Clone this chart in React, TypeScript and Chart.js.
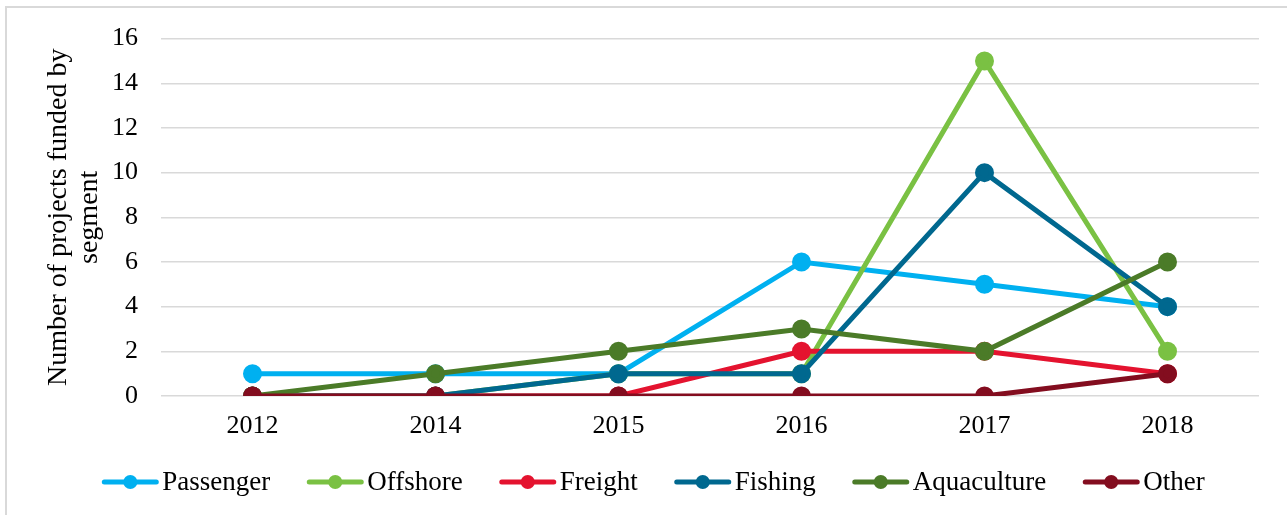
import React, { useEffect, useRef } from "react";
import { Chart, registerables } from "chart.js";

Chart.register(...registerables);

const categories = ["2012", "2014", "2015", "2016", "2017", "2018"];
const seriesNames = ["Passenger", "Offshore", "Freight", "Fishing", "Aquaculture", "Other"];
const passenger = [1, 1, 1, 6, 5, 4];
const offshore = [0, 0, 1, 1, 15, 2];
const freight = [0, 0, 0, 2, 2, 1];
const fishing = [0, 0, 1, 1, 10, 4];
const aquaculture = [0, 1, 2, 3, 2, 6];
const other = [0, 0, 0, 0, 0, 1];
const seriesValues = [passenger, offshore, freight, fishing, aquaculture, other];
const seriesColors = ["#00B0F0", "#7AC143", "#E4132F", "#00688F", "#4B7B28", "#830D1F"];
const yTitle = ["Number of projects funded by", "segment"];

const FONT = "'Liberation Serif', 'Times New Roman', serif";

const legendPlugin = {
  id: "customLegend",
  afterDraw(chart: any) {
    const ctx = chart.ctx;
    const fontSize = 27;
    ctx.save();
    ctx.font = `${fontSize}px ${FONT}`;
    const lineLen = 56;
    const textGap = 4;
    const itemGap = 37;
    const widths = chart.data.datasets.map((d: any) => lineLen + textGap + ctx.measureText(d.label).width);
    const total = widths.reduce((a: number, b: number) => a + b, 0) + itemGap * (widths.length - 1);
    let x = 653.5 - total / 2;
    const y = 482;
    chart.data.datasets.forEach((d: any, i: number) => {
      ctx.strokeStyle = d.borderColor;
      ctx.lineWidth = 5;
      ctx.lineCap = "round";
      ctx.beginPath();
      ctx.moveTo(x + 2, y);
      ctx.lineTo(x + lineLen - 2, y);
      ctx.stroke();
      ctx.fillStyle = d.borderColor;
      ctx.beginPath();
      ctx.arc(x + lineLen / 2, y, 7, 0, Math.PI * 2);
      ctx.fill();
      ctx.fillStyle = "#000";
      ctx.textBaseline = "middle";
      ctx.textAlign = "left";
      ctx.fillText(d.label, x + lineLen + textGap, y + 1);
      x += widths[i] + itemGap;
    });
    ctx.restore();
  },
};

export default function App() {
  const canvasRef = useRef<HTMLCanvasElement | null>(null);

  useEffect(() => {
    document.body.style.margin = "0";
    const canvas = canvasRef.current;
    if (!canvas) return;
    const chart = new Chart(canvas, {
      type: "line",
      data: {
        labels: categories,
        datasets: seriesValues.map((vals, i) => ({
          label: seriesNames[i],
          data: vals,
          borderColor: seriesColors[i],
          backgroundColor: seriesColors[i],
          pointBackgroundColor: seriesColors[i],
          pointBorderColor: seriesColors[i],
          borderWidth: 5,
          pointRadius: 7,
          pointHoverRadius: 7,
          tension: 0,
          fill: false,
          order: seriesValues.length - i,
        })),
      },
      options: {
        animation: false,
        responsive: false,
        maintainAspectRatio: false,
        layout: { padding: { top: 36, right: 28, bottom: 69, left: 0 } },
        plugins: {
          legend: { display: false },
          tooltip: { enabled: false },
        },
        scales: {
          x: {
            offset: true,
            grid: { display: false, drawTicks: false },
            border: { display: false },
            ticks: {
              color: "#000",
              font: { family: FONT, size: 26 },
              padding: 15,
              maxRotation: 0,
            },
            afterFit: (scale: any) => {
              scale.height = 50;
            },
          },
          y: {
            min: 0,
            max: 16,
            grid: { color: "#d9d9d9", lineWidth: 1.5, drawTicks: false },
            border: { display: false },
            ticks: {
              stepSize: 2,
              color: "#000",
              font: { family: FONT, size: 26 },
              padding: 23,
            },
            title: {
              display: true,
              text: yTitle,
              color: "#000",
              font: { family: FONT, size: 28, lineHeight: 1.12 },
              padding: { top: 43, bottom: 0 },
            },
            afterFit: (scale: any) => {
              scale.width = 161;
            },
          },
        },
      },
      plugins: [legendPlugin],
    });
    return () => chart.destroy();
  }, []);

  return (
    <div style={{ position: "absolute", left: 0, top: 0, width: 1287, height: 515, background: "#fff", overflow: "hidden" }}>
      <div
        style={{
          position: "absolute",
          left: 5,
          top: 6,
          width: 1300,
          height: 530,
          border: "2px solid #d9d9d9",
          boxSizing: "border-box",
        }}
      />
      <canvas ref={canvasRef} width={1287} height={515} style={{ position: "absolute", left: 0, top: 0, width: 1287, height: 515 }} />
    </div>
  );
}
